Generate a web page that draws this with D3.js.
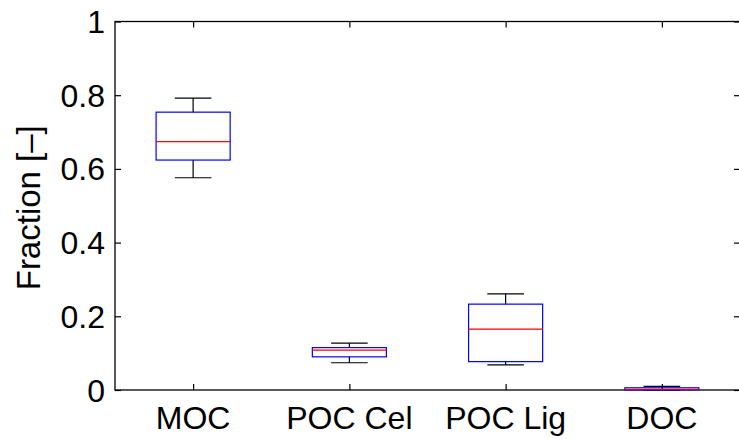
<!DOCTYPE html>
<html><head><meta charset="utf-8">
<script src="https://cdn.jsdelivr.net/npm/d3@7"></script>
<style>html,body{margin:0;padding:0;background:#fff;}svg{display:block;}</style>
</head><body>
<svg id="c" width="739" height="439"></svg>
<script>
const categories = ["MOC", "POC Cel", "POC Lig", "DOC"];
const whiskerLow  = [0.576, 0.074, 0.068, 0.000];
const quartile1   = [0.624, 0.090, 0.077, 0.0005];
const medians     = [0.674, 0.108, 0.165, 0.002];
const quartile3   = [0.754, 0.115, 0.233, 0.006];
const whiskerHigh = [0.792, 0.127, 0.261, 0.010];
const yTicks = [0, 0.2, 0.4, 0.6, 0.8, 1];

(function () {
const svg = d3.select("#c");
const mLeft = 115, mRight = 740, mTop = 21.5, mBottom = 390;
const font = "'Liberation Sans', Arial, Helvetica, sans-serif";
const fs = 32;

const x = d3.scaleLinear().domain([0.5, categories.length + 0.5]).range([mLeft, mRight]);
const y = d3.scaleLinear().domain([0, 1]).range([mBottom, mTop]);
const boxW = x(0.474) - x(0);
const capW = x(0.234) - x(0);

const data = categories.map((c, i) => ({c, i: i + 1, lo: whiskerLow[i], q1: quartile1[i], med: medians[i], q3: quartile3[i], hi: whiskerHigh[i]}));

const g = svg.append("g");
g.append("rect").attr("x", mLeft).attr("y", mTop).attr("width", mRight - mLeft).attr("height", mBottom - mTop)
  .attr("fill", "none").attr("stroke", "#000").attr("stroke-width", 1.3);

const yAxisL = d3.axisRight(y).tickValues(yTicks).tickSize(6).tickFormat("");
g.append("g").attr("transform", `translate(${mLeft},0)`).call(yAxisL).call(s => s.select(".domain").remove());
const yAxisR = d3.axisLeft(y).tickValues(yTicks).tickSize(6).tickFormat("");
g.append("g").attr("transform", `translate(${mRight},0)`).call(yAxisR).call(s => s.select(".domain").remove());

g.append("g").selectAll("text").data(yTicks).join("text")
  .attr("x", mLeft - 10).attr("y", d => y(d)).attr("dy", "0.36em")
  .attr("text-anchor", "end").attr("font-family", font).attr("font-size", fs)
  .text(d => d3.format("~g")(d));

const xAxisB = d3.axisTop(x).tickValues(data.map(d => d.i)).tickSize(6).tickFormat("");
g.append("g").attr("transform", `translate(0,${mBottom})`).call(xAxisB).call(s => s.select(".domain").remove());
const xAxisT = d3.axisBottom(x).tickValues(data.map(d => d.i)).tickSize(6).tickFormat("");
g.append("g").attr("transform", `translate(0,${mTop})`).call(xAxisT).call(s => s.select(".domain").remove());
g.selectAll(".tick line").attr("stroke", "#000").attr("stroke-width", 1.2);

g.append("g").selectAll("text").data(data).join("text")
  .attr("x", d => x(d.i)).attr("y", 429)
  .attr("text-anchor", "middle").attr("font-family", font).attr("font-size", fs)
  .text(d => d.c);

svg.append("text").attr("transform", `translate(40,${(mTop + mBottom) / 2 + 2}) rotate(-90)`)
  .attr("text-anchor", "middle").attr("font-family", font).attr("font-size", 33)
  .text("Fraction [–]");

const b = svg.append("g").selectAll("g").data(data).join("g");
b.append("line").attr("x1", d => x(d.i)).attr("x2", d => x(d.i))
  .attr("y1", d => y(d.hi)).attr("y2", d => y(d.q3)).attr("stroke", "#000").attr("stroke-width", 1.2);
b.append("line").attr("x1", d => x(d.i)).attr("x2", d => x(d.i))
  .attr("y1", d => y(d.q1)).attr("y2", d => y(d.lo)).attr("stroke", "#000").attr("stroke-width", 1.2);
b.append("line").attr("x1", d => x(d.i) - capW / 2).attr("x2", d => x(d.i) + capW / 2)
  .attr("y1", d => y(d.hi)).attr("y2", d => y(d.hi)).attr("stroke", "#000").attr("stroke-width", 1.2);
b.append("line").attr("x1", d => x(d.i) - capW / 2).attr("x2", d => x(d.i) + capW / 2)
  .attr("y1", d => y(d.lo)).attr("y2", d => y(d.lo)).attr("stroke", "#000").attr("stroke-width", 1.2);
b.append("rect").attr("x", d => x(d.i) - boxW / 2).attr("width", boxW)
  .attr("y", d => y(d.q3)).attr("height", d => y(d.q1) - y(d.q3))
  .attr("fill", "none").attr("stroke", "#0000ff").attr("stroke-width", 1.2);
b.append("line").attr("x1", d => x(d.i) - boxW / 2).attr("x2", d => x(d.i) + boxW / 2)
  .attr("y1", d => y(d.med)).attr("y2", d => y(d.med)).attr("stroke", "#ff0000").attr("stroke-width", 1.2);
})();
</script>
</body></html>
